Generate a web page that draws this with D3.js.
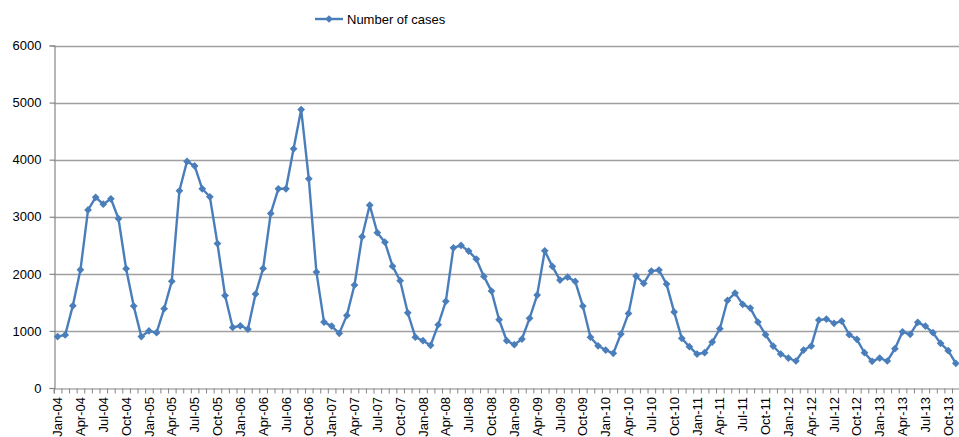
<!DOCTYPE html>
<html>
<head>
<meta charset="utf-8">
<script src="https://cdn.jsdelivr.net/npm/d3@7"></script>
<style>
  html, body { margin: 0; padding: 0; background: #fff; }
  svg { display: block; }
  text { font-family: "Liberation Sans", Arial, sans-serif; fill: #000; }
</style>
</head>
<body>
<svg id="chart" width="959" height="437"></svg>
<script>
// ---- data ----
const monthNames = ["Jan","Feb","Mar","Apr","May","Jun","Jul","Aug","Sep","Oct","Nov","Dec"];
const years = ["04","05","06","07","08","09","10","11","12","13"];
const months = [];
years.forEach(y => monthNames.forEach(m => months.push(m + "-" + y)));

const cases2004 = [900, 930, 1440, 2070, 3120, 3340, 3220, 3315, 2965, 2090, 1435, 900];
const cases2005 = [1000, 970, 1390, 1870, 3455, 3970, 3890, 3490, 3350, 2530, 1620, 1060];
const cases2006 = [1090, 1030, 1645, 2095, 3058, 3490, 3490, 4190, 4878, 3665, 2030, 1155];
const cases2007 = [1085, 957, 1272, 1803, 2650, 3203, 2720, 2555, 2135, 1880, 1318, 890];
const cases2008 = [828, 747, 1108, 1518, 2455, 2497, 2398, 2258, 1955, 1698, 1196, 828];
const cases2009 = [758, 858, 1220, 1628, 2403, 2130, 1890, 1943, 1867, 1435, 890, 740];
const cases2010 = [665, 607, 945, 1307, 1960, 1832, 2048, 2065, 1820, 1330, 870, 723];
const cases2011 = [595, 618, 805, 1038, 1535, 1663, 1465, 1400, 1155, 933, 735, 595];
const cases2012 = [525, 473, 665, 735, 1190, 1208, 1133, 1173, 933, 852, 618, 467];
const cases2013 = [525, 473, 688, 985, 940, 1150, 1085, 968, 782, 653, 432];
const cases = [].concat(cases2004, cases2005, cases2006, cases2007, cases2008,
                        cases2009, cases2010, cases2011, cases2012, cases2013);

const yTicks = [0, 1000, 2000, 3000, 4000, 5000, 6000];
const xTickLabels = months.filter((m, i) => i % 3 === 0);
const seriesName = "Number of cases";

// ---- layout ----
const svg = d3.select("#chart");
const plotLeft = 53.8, bandW = 7.612;
const plotRight = plotLeft + months.length * bandW;
const plotTop = 45.5, plotBottom = 388;
const lineColor = "#4a7ebb";
const gridColor = "#a0a0a0";
const axisColor = "#868686";

const x = d3.scaleBand().domain(months).range([plotLeft, plotRight]).padding(0);
const xIdx = d3.scaleLinear().domain([0, months.length]).range([plotLeft, plotRight]);
const y = d3.scaleLinear().domain([0, 6000]).range([plotBottom, plotTop]);
const cx = m => x(m) + x.bandwidth() / 2;

// gridlines
svg.append("g")
  .selectAll("line")
  .data(yTicks.filter(t => t > 0))
  .join("line")
  .attr("x1", plotLeft).attr("x2", 959 + 20)
  .attr("y1", d => Math.round(y(d)) + 0.5).attr("y2", d => Math.round(y(d)) + 0.5)
  .attr("stroke", gridColor).attr("stroke-width", 1.3);

// y axis
const yAxis = svg.append("g")
  .attr("transform", `translate(${Math.round(plotLeft) + 0.5},0)`)
  .call(d3.axisLeft(y).tickValues(yTicks).tickSize(5).tickPadding(8).tickFormat(d3.format("d")));
yAxis.select(".domain").attr("stroke", axisColor).attr("stroke-width", 1.2);
yAxis.selectAll(".tick line").attr("stroke", axisColor).attr("stroke-width", 1.2);
yAxis.selectAll("text").style("font-size", "13px").attr("fill", "#000");

// x axis: minor ticks at category boundaries
const xTicksAxis = svg.append("g")
  .attr("transform", `translate(0,${Math.round(plotBottom) + 0.5})`)
  .call(d3.axisBottom(xIdx).tickValues(d3.range(0, months.length + 1)).tickSize(5).tickFormat(""));
xTicksAxis.select(".domain").attr("stroke", axisColor).attr("stroke-width", 1.2);
xTicksAxis.selectAll(".tick line").attr("stroke", axisColor).attr("stroke-width", 1);

// x axis labels every 3 months
const xLab = svg.append("g")
  .attr("transform", `translate(0,${Math.round(plotBottom)})`)
  .call(d3.axisBottom(x).tickValues(xTickLabels).tickSize(0));
xLab.select(".domain").remove();
xLab.selectAll("text")
  .style("font-size", "13px")
  .attr("fill", "#000")
  .attr("y", 0).attr("x", 0)
  .attr("dy", "0.35em")
  .attr("text-anchor", "end")
  .attr("transform", "translate(0,9) rotate(-90)");

// line
const data = cases.map((v, i) => ({ m: months[i], v }));
svg.append("path")
  .datum(data)
  .attr("fill", "none")
  .attr("stroke", lineColor)
  .attr("stroke-width", 2.4)
  .attr("stroke-linejoin", "round")
  .attr("d", d3.line().x(d => cx(d.m)).y(d => y(d.v)));

// markers
const diamond = d3.symbol().type(d3.symbolSquare).size(30);
svg.append("g")
  .selectAll("path")
  .data(data)
  .join("path")
  .attr("d", diamond)
  .attr("fill", lineColor)
  .attr("transform", d => `translate(${cx(d.m)},${y(d.v)}) rotate(45)`);

// legend
const lg = svg.append("g").attr("transform", "translate(315,19)");
lg.append("line").attr("x1", 0).attr("x2", 28).attr("y1", 0).attr("y2", 0)
  .attr("stroke", lineColor).attr("stroke-width", 2.4);
lg.append("path").attr("d", diamond).attr("fill", lineColor)
  .attr("transform", "translate(14,0) rotate(45)");
lg.append("text").attr("x", 32).attr("y", 0).attr("dy", "0.35em")
  .style("font-size", "13px").text(seriesName);
</script>
</body>
</html>
